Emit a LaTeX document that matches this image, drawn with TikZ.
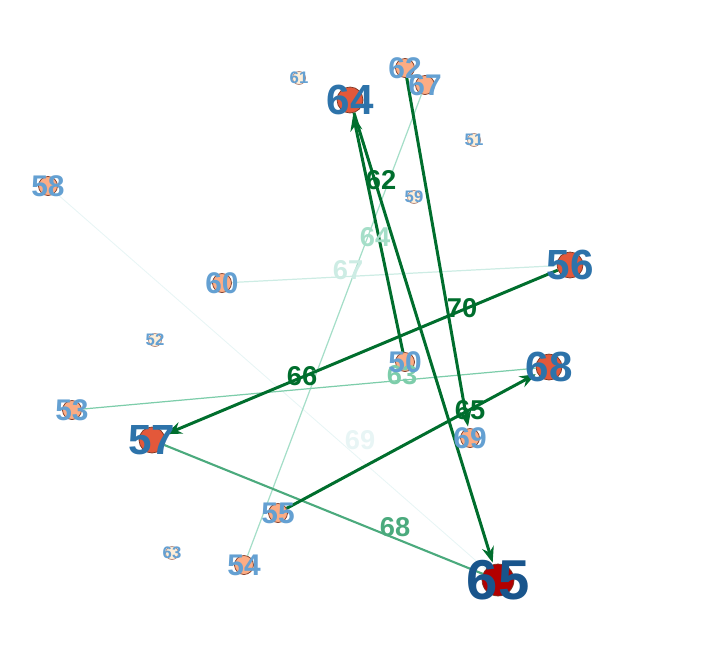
\documentclass[tikz,border=0pt]{standalone}
\usepackage{fontspec}
\setmainfont{Liberation Sans}
\usetikzlibrary{arrows.meta}
\definecolor{nodeRed}{RGB}{227,88,58}
\definecolor{nodeDark}{RGB}{178,0,0}
\definecolor{nodeLight}{RGB}{252,172,132}
\definecolor{nodePale}{RGB}{254,238,216}
\definecolor{rimBrown}{RGB}{125,55,35}
\definecolor{txtHuge}{RGB}{25,85,140}
\definecolor{txtBig}{RGB}{45,115,170}
\definecolor{txtMid}{RGB}{100,160,210}
\definecolor{edgeDark}{RGB}{0,110,45}
\definecolor{edgeMid}{RGB}{75,170,125}
\definecolor{edgeLight}{RGB}{125,205,170}
\definecolor{edgePale}{RGB}{165,222,200}
\definecolor{edgeFaint}{RGB}{205,236,228}
\definecolor{edgeGhost}{RGB}{232,245,245}
\tikzset{
  vhuge/.style={circle,draw=rimBrown,fill=nodeDark,minimum size=0.64cm,inner sep=0pt},
  vbig/.style={circle,draw=rimBrown,fill=nodeRed,minimum size=0.52cm,inner sep=0pt},
  vmid/.style={circle,draw=rimBrown,fill=nodeLight,minimum size=0.38cm,inner sep=0pt},
  vsmall/.style={circle,draw=rimBrown!60,fill=nodePale,minimum size=0.26cm,inner sep=0pt},
  thuge/.style={font=\bfseries\fontsize{32}{32}\selectfont,text=txtHuge},
  tbig/.style={font=\bfseries\fontsize{24}{24}\selectfont,text=txtBig},
  tmid/.style={font=\bfseries\fontsize{17}{17}\selectfont,text=txtMid},
  tsmall/.style={font=\bfseries\fontsize{9.5}{9.5}\selectfont,text=txtMid},
  arc/.style={draw=edgeDark,line width=1.7pt,-{Stealth[length=3.2mm,width=2.4mm]},shorten >=1pt},
  weak/.style={line width=0.7pt},
  elab/.style={font=\bfseries\fontsize{15.5}{15.5}\selectfont,inner sep=1pt},
}
\begin{document}
\begin{tikzpicture}[x=0.02cm,y=-0.02cm]
\useasboundingbox (0,0) rectangle (702,663);
% vertices
\node[vsmall] (n61) at (299,78) {};
\node[vbig]   (n64) at (350,100) {};
\node[vmid]   (n62) at (405,68) {};
\node[vmid]   (n67) at (425,85) {};
\node[vsmall] (n51) at (474,140) {};
\node[vmid]   (n58) at (48,186) {};
\node[vsmall] (n59) at (414,197) {};
\node[vbig]   (n56) at (570,265) {};
\node[vmid]   (n60) at (222,283) {};
\node[vsmall] (n52) at (155,340) {};
\node[vmid]   (n50) at (405,362) {};
\node[vbig]   (n68) at (549,367) {};
\node[vmid]   (n53) at (72,410) {};
\node[vbig]   (n57) at (152,440) {};
\node[vmid]   (n69) at (470,438) {};
\node[vmid]   (n55) at (278,513) {};
\node[vsmall] (n63) at (172,553) {};
\node[vmid]   (n54) at (244,565) {};
\node[vhuge]  (n65) at (498,580) {};
% weak links
\draw[weak,draw=edgeGhost,line width=0.5pt] (n58) -- (n65);
\draw[weak,draw=edgeFaint] (n60) -- (n56);
\draw[weak,draw=edgePale] (n54) -- (n67);
\draw[weak,draw=edgeLight] (n53) -- (n68);
\draw[weak,draw=edgeMid,line width=1.2pt] (n57) -- (n65);
% strong links
\draw[arc] (n56) -- (n57);
\draw[arc] (n55) -- (n68);
\draw[arc] (n62) -- (n69);
\draw[arc] (n50) -- (n64);
\draw[arc] (n64) -- (n65);
% link labels
\node[elab,text=edgeDark]  (w62) at (381,180) {62};
\node[elab,text=edgeDark]  (w70) at (462,308) {70};
\node[elab,text=edgeDark]  (w66) at (302,376) {66};
\node[elab,text=edgeDark]  (w65) at (470,410) {65};
\node[elab,text=edgeLight] (w63) at (402,375) {63};
\node[elab,text=edgePale]  (w64) at (375,237) {64};
\node[elab,text=edgeFaint] (w67) at (348,270) {67};
\node[elab,text=edgeGhost] (w69) at (360,440) {69};
\node[elab,text=edgeMid]   (w68) at (395,527) {68};
% vertex labels
\node[tsmall] (t61) at (n61) {61};
\node[tbig]   (t64) at (n64) {64};
\node[tmid]   (t62) at (n62) {62};
\node[tmid]   (t67) at (n67) {67};
\node[tsmall] (t51) at (n51) {51};
\node[tmid]   (t58) at (n58) {58};
\node[tsmall] (t59) at (n59) {59};
\node[tbig]   (t56) at (n56) {56};
\node[tmid]   (t60) at (n60) {60};
\node[tsmall] (t52) at (n52) {52};
\node[tmid]   (t50) at (n50) {50};
\node[tbig]   (t68) at (n68) {68};
\node[tmid]   (t53) at (n53) {53};
\node[tbig]   (t57) at (n57) {57};
\node[tmid]   (t69) at (n69) {69};
\node[tmid]   (t55) at (n55) {55};
\node[tsmall] (t63) at (n63) {63};
\node[tmid]   (t54) at (n54) {54};
\node[thuge]  (t65) at (n65) {65};
\end{tikzpicture}
\end{document}
